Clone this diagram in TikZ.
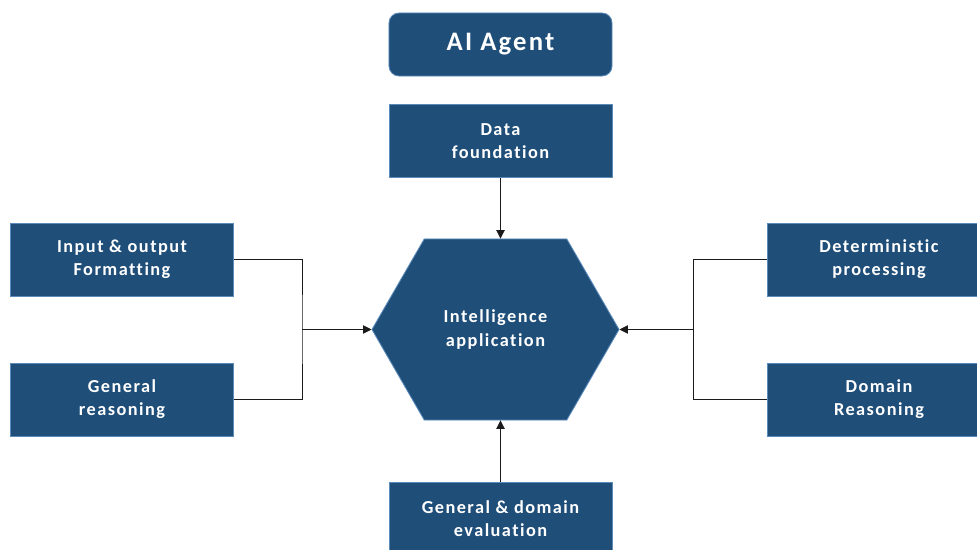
\documentclass[tikz,border=0pt]{standalone}
\usepackage{fontspec}
\setmainfont[LetterSpace=8,Ligatures=NoCommon]{Carlito}
\usetikzlibrary{arrows.meta,positioning,shapes.symbols}
\definecolor{AgentBlue}{HTML}{1F4E79}
\definecolor{EdgeBlue}{HTML}{5B8BBA}
\definecolor{LineGray}{HTML}{1A1A1A}
\tikzset{
  blk/.style    = {draw=EdgeBlue, line width=0.6pt, fill=AgentBlue, text=white,
                   align=center, font=\bfseries\fontsize{13}{16.5}\selectfont,
                   minimum width=5.575cm, minimum height=1.825cm, inner sep=2pt},
  titulo/.style = {blk, rounded corners=0.25cm, minimum height=1.575cm,
                   font=\bfseries\fontsize{19}{22}\selectfont},
  hexa/.style   = {blk, signal, signal to=east and west, signal pointer angle=120,
                   minimum width=6.175cm, minimum height=4.525cm},
  linea/.style  = {LineGray, line width=0.6pt},
  flecha/.style = {linea, -{Triangle[length=6pt,width=6pt]}},
}
\begin{document}
\begin{tikzpicture}[x=0.025cm, y=-0.025cm]
  \useasboundingbox (0,0) rectangle (977,550);
  % nodes
  \node[titulo] (agent) at (500.5,44.5) {AI Agent};
  \node[blk] (data) at (500.5,141) {Data\\foundation};
  \node[hexa] (hex) at (495.5,329.5) {Intelligence\\application};
  \node[blk] (io) at (122,259.5) {Input \& output\\Formatting};
  \node[blk] (genr) at (122,399.5) {General\\reasoning};
  \node[blk] (determ) at (879,259.5) {Deterministic\\processing};
  \node[blk] (domain) at (879,399.5) {Domain\\Reasoning};
  \node[blk] (evalb) at (500.5,518.5) {General \& domain\\evaluation};
  \coordinate (jl) at (302,329.5);
  \coordinate (jr) at (693,329.5);
  % connectors
  \draw[flecha] (data.south) -- (data.south |- hex.north);
  \draw[flecha] (evalb.north) -- (evalb.north |- hex.south);
  \draw[linea] (io.east) -| (jl) |- (genr.east);
  \draw[flecha] (jl) -- (hex.west);
  \draw[linea] (determ.west) -| (jr) |- (domain.west);
  \draw[flecha] (jr) -- (hex.east);
\end{tikzpicture}
\end{document}
